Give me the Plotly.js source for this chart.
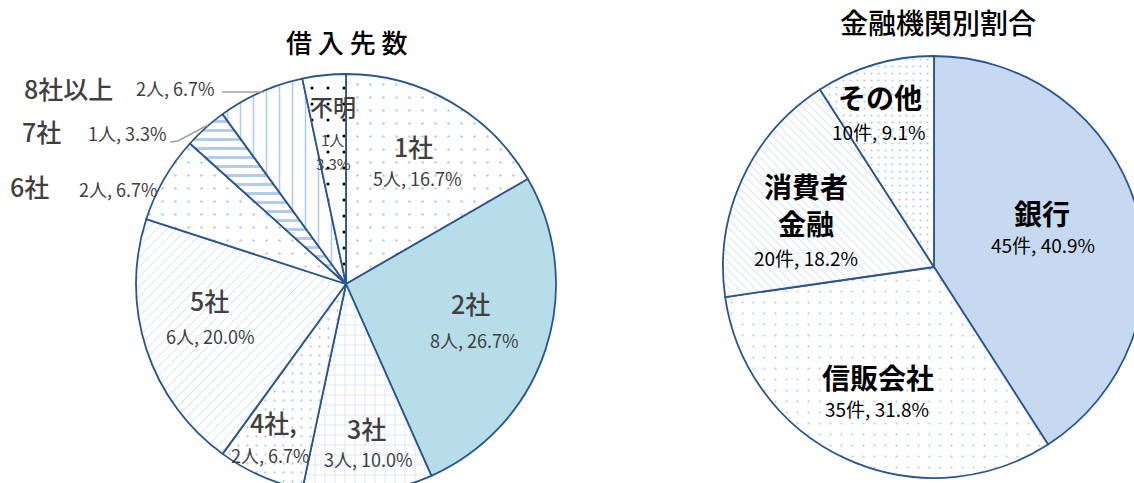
<!DOCTYPE html>
<html>
<head>
<meta charset="utf-8">
<script src="https://cdn.plot.ly/plotly-3.0.1.min.js"></script>
<style>
html,body{margin:0;padding:0;background:#fff;overflow:hidden;}
#chart{width:1150px;height:500px;}
</style>
</head>
<body>
<div id="chart"></div>
<script>
// ---- data ----
const leftTitle = "借入先数";
const leftLabels = ["1社", "2社", "3社", "4社", "5社", "6社", "7社", "8社以上", "不明"];
const leftCounts = [5, 8, 3, 2, 6, 2, 1, 2, 1];
const leftUnit = "人";

const rightTitle = "金融機関別割合";
const rightLabels = ["銀行", "信販会社", "消費者金融", "その他"];
const rightCounts = [45, 35, 20, 10];
const rightUnit = "件";

// ---- helpers ----
const W = 1150, H = 500;
const X = p => p / W;
const Y = p => 1 - p / H;
function pct(arr) { const t = arr.reduce((a, b) => a + b, 0); return arr.map(v => (v / t * 100).toFixed(1)); }
const leftPct = pct(leftCounts);
const rightPct = pct(rightCounts);

const lineColor = "#2B5590";
const pat = "#B3CCEE";

const leftPie = {
  type: "pie", values: leftCounts, labels: leftLabels, sort: false,
  direction: "clockwise", rotation: 0, textinfo: "none", hoverinfo: "none",
  domain: {x: [X(136), X(556)], y: [Y(494), Y(74)]},
  marker: {
    colors: ["#fff", "#B7DDE8", "#fff", "#fff", "#fff", "#fff", "#fff", "#fff", "#fff"],
    line: {color: lineColor, width: 1.8},
    pattern: {
      shape: [".", "", "+", ".", "/", ".", "-", "|", "."],
      fgcolor: [pat, pat, pat, pat, pat, pat, pat, pat, "#000"],
      size: [13, 8, 10, 9, 7, 13, 9, 13, 16],
      solidity: [0.03, 0.1, 0.08, 0.05, 0.1, 0.03, 0.33, 0.12, 0.03]
    }
  }
};
const rightPie = {
  type: "pie", values: rightCounts, labels: rightLabels, sort: false,
  direction: "clockwise", rotation: 0, textinfo: "none", hoverinfo: "none",
  domain: {x: [X(723), X(1145)], y: [Y(478), Y(56)]},
  marker: {
    colors: ["#C6D9F1", "#fff", "#fff", "#fff"],
    line: {color: lineColor, width: 1.8},
    pattern: {
      shape: ["", ".", "\\", "."],
      fgcolor: [pat, pat, pat, pat],
      size: [8, 11, 6, 7],
      solidity: [0.1, 0.03, 0.12, 0.08]
    }
  }
};

const FONT = "Noto Sans CJK JP";
const grey = "#404040";
const ann = [];
function txt(t, x, y, size, color, weight, xanchor) {
  ann.push({text: t, x: X(x), y: Y(y), xref: "paper", yref: "paper", showarrow: false,
    xanchor: xanchor || "center", yanchor: "middle",
    font: {family: FONT, size: size, color: color, weight: weight || 400}});
}
// titles
txt(leftTitle.split("").join(" "), 347, 42, 26, "#000", 500);
txt(rightTitle, 938, 22, 28, "#000", 500);

// left labels: [label pos, value pos]
const leftPos = [
  [413, 146, 417, 178], [470, 303, 474, 340], [366, 428, 368, 459],
  [273, 422, 270, 455], [209, 300, 210, 336]
];
leftPos.forEach((p, i) => {
  const lab = leftLabels[i] + (i === 3 ? "," : "");
  txt(lab, p[0], p[1], 25, grey, 500);
  txt(leftCounts[i] + leftUnit + ", " + leftPct[i] + "%", p[2], p[3], 18, grey, 400);
});
// outside labels 6社,7社,8社以上
const outPos = [[5, 8, 186, 77, 189], [6, 20, 131, 86, 133], [7, 22, 88, 134, 88]];
outPos.forEach(p => {
  const i = p[0];
  txt(leftLabels[i], p[1], p[2], 25, grey, 500, "left");
  txt(leftCounts[i] + leftUnit + ", " + leftPct[i] + "%", p[3], p[4], 18, grey, 400, "left");
});
// 不明
txt(leftLabels[8], 333, 106, 23, grey, 500);
txt(leftCounts[8] + leftUnit, 332, 139, 15, grey, 400);
txt(leftPct[8] + "%", 333, 163, 15, grey, 400);

// right labels
txt(rightLabels[0], 1042, 213, 28, "#000", 700);
txt(rightCounts[0] + rightUnit + ", " + rightPct[0] + "%", 1043, 244, 19, "#000", 400);
txt(rightLabels[1], 878, 377, 28, "#000", 700);
txt(rightCounts[1] + rightUnit + ", " + rightPct[1] + "%", 877, 408, 19, "#000", 400);
txt(rightLabels[2].slice(0, 3), 806, 186, 28, "#000", 700);
txt(rightLabels[2].slice(3), 806, 223, 28, "#000", 700);
txt(rightCounts[2] + rightUnit + ", " + rightPct[2] + "%", 806, 257, 19, "#000", 400);
txt(rightLabels[3], 880, 97, 28, "#000", 700);
txt(rightCounts[3] + rightUnit + ", " + rightPct[3] + "%", 879, 131, 19, "#000", 400);

// leader lines
const lp = pts => "M " + pts.map(q => X(q[0]) + "," + Y(q[1])).join(" L ");
const shapes = [
  {type: "path", xref: "paper", yref: "paper", path: lp([[222, 92], [264, 92]]), line: {color: "#A0A0A0", width: 1.5}},
  {type: "path", xref: "paper", yref: "paper", path: lp([[170, 142], [178, 141], [208, 125]]), line: {color: "#A0A0A0", width: 1.5}}
];

Plotly.newPlot("chart", [leftPie, rightPie], {
  width: W, height: H, margin: {l: 0, r: 0, t: 0, b: 0},
  paper_bgcolor: "#fff", showlegend: false,
  annotations: ann, shapes: shapes
}, {staticPlot: true});
</script>
</body>
</html>
